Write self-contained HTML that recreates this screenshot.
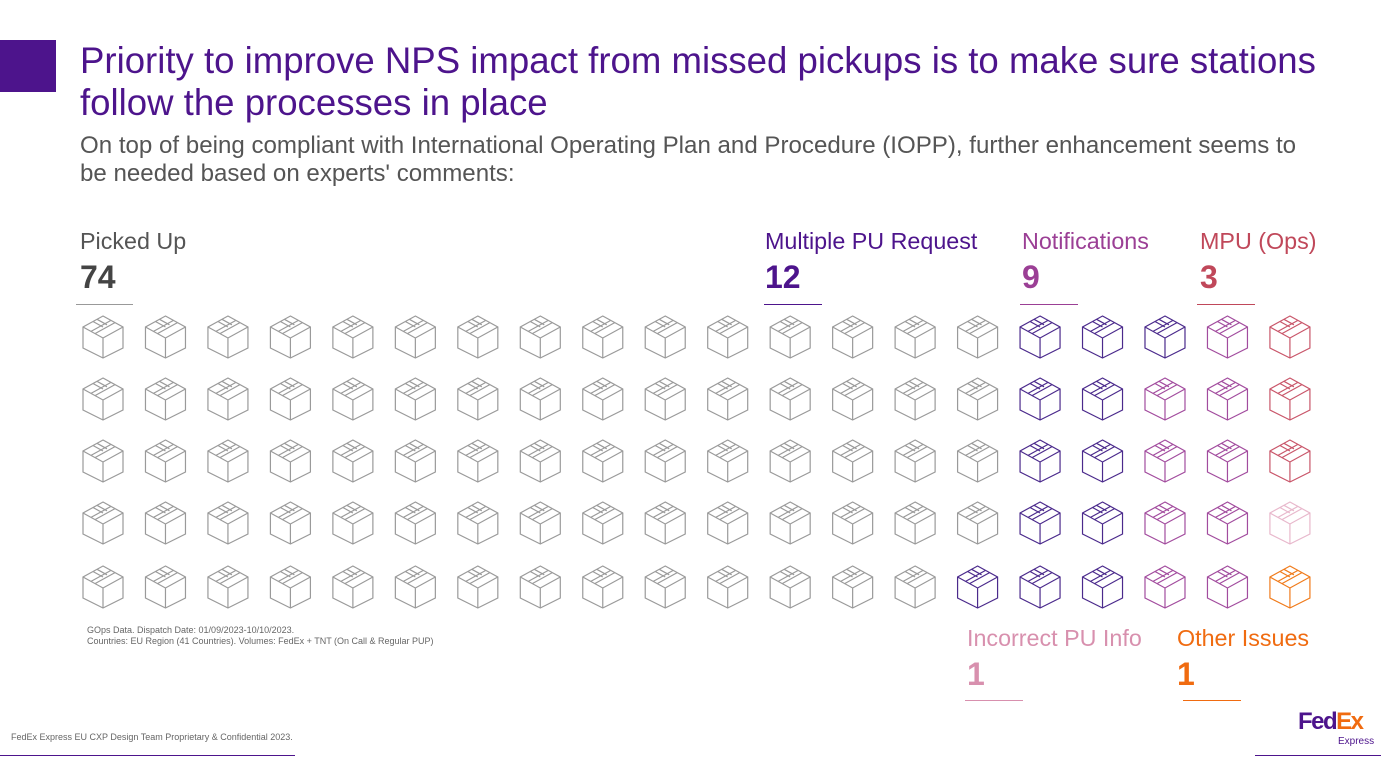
<!DOCTYPE html>
<html><head><meta charset="utf-8"><style>
body{margin:0;width:1381px;height:772px;background:#fff;position:relative;overflow:hidden;font-family:"Liberation Sans",sans-serif}
.a{position:absolute;white-space:nowrap}
.lab{font-size:23.3px}
.num{font-size:32px;font-weight:bold}
.ul{position:absolute;height:1px}
</style></head><body>
<div class="a" style="left:0;top:40px;width:56px;height:52px;background:#4d148c"></div>
<div class="a" style="left:80px;top:40px;font-size:36.6px;line-height:42px;color:#4d148c">Priority to improve NPS impact from missed pickups is to make sure stations<br>follow the processes in place</div>
<div class="a" style="left:80px;top:132px;font-size:24.1px;line-height:28px;color:#555">On top of being compliant with International Operating Plan and Procedure (IOPP), further enhancement seems to<br>be needed based on experts' comments:</div>

<div class="a lab" style="left:80px;top:228px;color:#555">Picked Up</div>
<div class="a num" style="left:80px;top:259px;color:#444">74</div>
<div class="ul" style="left:76px;top:304px;width:57px;background:#999"></div>

<div class="a lab" style="left:765px;top:228px;color:#4d148c">Multiple PU Request</div>
<div class="a num" style="left:765px;top:259px;color:#4d148c">12</div>
<div class="ul" style="left:764px;top:304px;width:58px;background:#4d148c"></div>

<div class="a lab" style="left:1022px;top:228px;color:#9b3f95">Notifications</div>
<div class="a num" style="left:1022px;top:259px;color:#9b3f95">9</div>
<div class="ul" style="left:1020px;top:304px;width:58px;background:#9b3f95"></div>

<div class="a lab" style="left:1200px;top:228px;color:#c0485a">MPU (Ops)</div>
<div class="a num" style="left:1200px;top:259px;color:#c0485a">3</div>
<div class="ul" style="left:1197px;top:304px;width:58px;background:#c0485a"></div>

<div class="a lab" style="left:967px;top:625px;color:#d890ae">Incorrect PU Info</div>
<div class="a num" style="left:967px;top:656px;color:#d890ae">1</div>
<div class="ul" style="left:965px;top:700px;width:58px;background:#d890ae"></div>

<div class="a lab" style="left:1177px;top:625px;color:#f06b10">Other Issues</div>
<div class="a num" style="left:1177px;top:656px;color:#f06b10">1</div>
<div class="ul" style="left:1183px;top:700px;width:58px;background:#f06b10"></div>

<svg id="grid" class="a" style="left:0;top:0" width="1381" height="772"></svg>

<div class="a" style="left:87px;top:625px;font-size:9px;line-height:10.5px;color:#666">GOps Data. Dispatch Date: 01/09/2023-10/10/2023.<br>Countries: EU Region (41 Countries). Volumes: FedEx + TNT (On Call &amp; Regular PUP)</div>
<div class="a" style="left:11px;top:732px;font-size:9px;color:#666">FedEx Express EU CXP Design Team Proprietary &amp; Confidential 2023.</div>
<div class="ul" style="left:0;top:755px;width:295px;background:#4d148c"></div>
<div class="a" style="left:1298px;top:708px;font-size:24px;font-weight:bold;letter-spacing:-1.5px"><span style="color:#4d148c">Fed</span><span style="color:#f06b10">Ex</span></div>
<div class="a" style="left:1338px;top:736px;font-size:10px;color:#4d148c">Express</div>
<div class="ul" style="left:1255px;top:755px;width:126px;background:#4d148c"></div>

<script>
const categories=["Picked Up","Multiple PU Request","Notifications","MPU (Ops)","Incorrect PU Info","Other Issues"];
const counts=[74,12,9,3,1,1];
const colors=["#9a9a9a","#4b2a8c","#a24c9e","#c9566a","#e8b8cc","#f07b1b"];
const rows=5;
const svg=document.getElementById('grid');
const NS="http://www.w3.org/2000/svg";
const x0=103,dx=62.47,y0=337,dy=62;
function box(cx,cy,c){
  const g=document.createElementNS(NS,'g');
  
  
  g.setAttribute('transform',`translate(${cx},${cy})`);
  g.setAttribute('fill','none');g.setAttribute('stroke',c);g.setAttribute('stroke-width','1.2');
  g.innerHTML=`<path d="M0,-21 L20,-10 L20,11 L0,21 L-20,11 L-20,-10 Z"/><path d="M-20,-10 L0,1 L20,-10 M0,1 L0,21"/><path d="M-12,-5.6 L8,-16.6 M-8,-3.4 L12,-14.4 M-10,-15.5 L0,-10 M-6,-17.7 L4,-12.2"/>`;
  svg.appendChild(g);
}
let idx=0;
counts.forEach((n,ci)=>{for(let k=0;k<n;k++){const col=Math.floor(idx/rows),row=idx%rows;box(x0+col*dx,y0+row*dy+(row==4?2:0),colors[ci]);idx++;}});
</script>
</body></html>
